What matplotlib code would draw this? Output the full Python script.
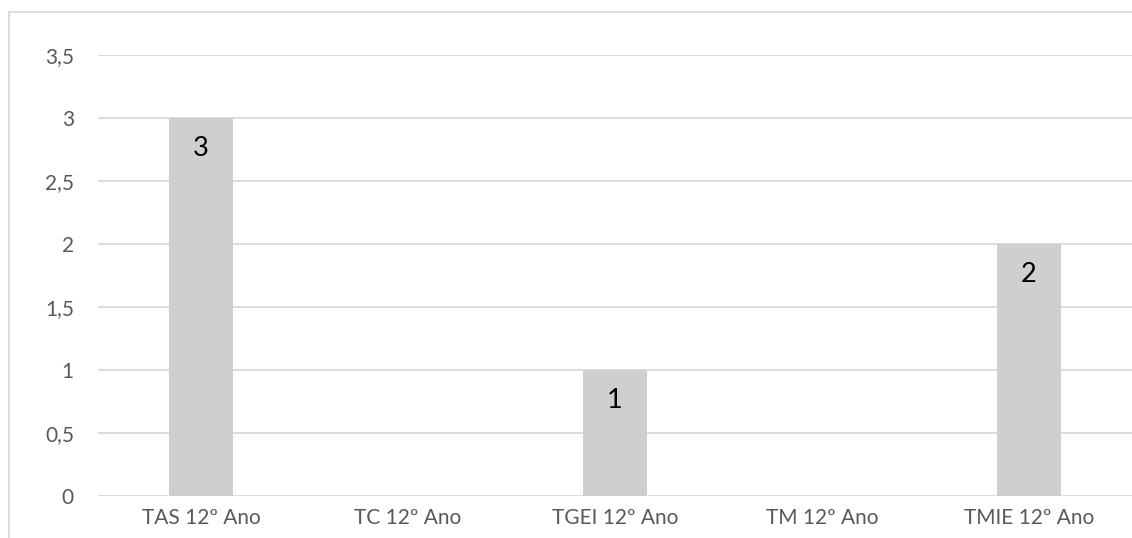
import matplotlib
matplotlib.use("Agg")
import matplotlib.pyplot as plt
from matplotlib.patches import Rectangle
from matplotlib.ticker import FuncFormatter, MultipleLocator

categories = ["TAS 12º Ano", "TC 12º Ano", "TGEI 12º Ano", "TM 12º Ano", "TMIE 12º Ano"]
values = [3, 0, 1, 0, 2]

W, H = 1132, 538
fig = plt.figure(figsize=(W / 100, H / 100), dpi=100)
plt.rcParams["font.family"] = ["Lato", "DejaVu Sans"]

# chart area border (light gray, running off the right and bottom edges)
fig.patches.append(Rectangle((9 / W, -0.05), 1.1, 1 - 12 / H + 0.05,
                             transform=fig.transFigure, fill=False,
                             edgecolor="#D9D9D9", linewidth=1.3))

ax = fig.add_axes([97.5 / W, (H - 496) / H, (1132.5 - 97.5) / W, (496 - 55) / H])
x = range(len(categories))
bars = ax.bar(x, values, width=0.31, color="#D0CECE", zorder=2)

ax.set_xlim(-0.5, len(categories) - 0.5)
ax.set_ylim(0, 3.5)
ax.yaxis.set_major_locator(MultipleLocator(0.5))
ax.yaxis.set_major_formatter(FuncFormatter(lambda v, p: f"{v:g}".replace(".", ",")))
ax.grid(axis="y", color="#D9D9D9", linewidth=1.3, zorder=0)
ax.set_axisbelow(True)
for s in ax.spines.values():
    s.set_visible(False)
ax.set_xticks(list(x))
ax.set_xticklabels(categories)
ax.tick_params(axis="both", length=0, colors="#595959", labelsize=15)
ax.tick_params(axis="y", pad=17)
ax.tick_params(axis="x", pad=9)

for xi, v in zip(x, values):
    if v > 0:
        ax.annotate(f"{v}", (xi, v), xytext=(0, -31), textcoords="offset pixels",
                    ha="center", va="center", fontsize=19.5, color="#000000")

fig.savefig("out.png", dpi=100)
